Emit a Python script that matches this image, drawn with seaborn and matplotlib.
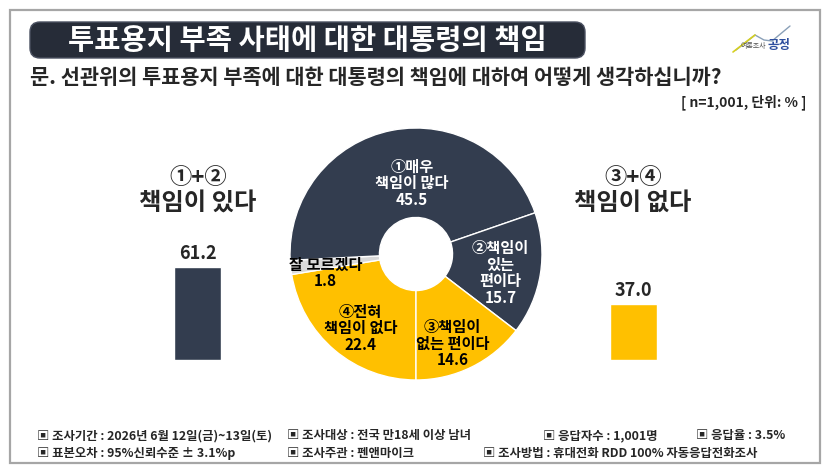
import matplotlib
matplotlib.use("Agg")
import matplotlib.pyplot as plt
from matplotlib.patches import FancyBboxPatch, Rectangle
from matplotlib.lines import Line2D
import seaborn as sns
import numpy as np

# ---------------- data ----------------
title = "투표용지 부족 사태에 대한 대통령의 책임"
question = "문. 선관위의 투표용지 부족에 대한 대통령의 책임에 대하여 어떻게 생각하십니까?"
unit_note = "[ n=1,001, 단위: % ]"

categories = ["①매우\n책임이 많다", "②책임이\n있는\n편이다", "③책임이\n없는 편이다",
              "④전혀\n책임이 없다", "잘 모르겠다"]
values = [45.5, 15.7, 14.6, 22.4, 1.8]
pie_order = [3, 4, 0, 1, 2]          # clockwise from 6 o'clock

groups = ["①+②\n책임이 있다", "③+④\n책임이 없다"]
group_values = [61.2, 37.0]

footer_row1 = ["▣ 조사기간 : 2026년 6월 12일(금)~13일(토)", "▣ 조사대상 : 전국 만18세 이상 남녀",
               "▣ 응답자수 : 1,001명", "▣ 응답율 : 3.5%"]
footer_row2 = ["▣ 표본오차 : 95%신뢰수준 ± 3.1%p", "▣ 조사주관 : 펜앤마이크",
               "▣ 조사방법 : 휴대전화 RDD 100% 자동응답전화조사"]

# ---------------- style ----------------
DARK = "#333d4f"
YELLOW = "#ffc000"
GRAY = "#d9d9d9"
cat_colors = [DARK, DARK, YELLOW, YELLOW, GRAY]
cat_text = ["white", "white", "black", "black", "black"]
label_pos = [(-0.03, 0.56), (0.67, -0.15), (0.29, -0.71), (-0.44, -0.59), (-0.72, -0.15)]

sns.set_style("white")
plt.rcParams["font.family"] = ["Noto Sans CJK KR", "DejaVu Sans"]

W, H = 827, 472
fig = plt.figure(figsize=(W / 100, H / 100), dpi=100)
fig.patch.set_facecolor("white")

def fx(x):
    return x / W

def fy(y):
    return 1 - y / H

# outer border
fig.patches.append(Rectangle((fx(10), fy(463)), fx(810), (463 - 10) / H, transform=fig.transFigure,
                             fill=False, edgecolor="#a6a6a6", linewidth=1.6, zorder=0))

# title bar
fig.patches.append(FancyBboxPatch((fx(30), fy(58)), fx(555), 36 / H,
                                  boxstyle="round,pad=0,rounding_size=0.012",
                                  transform=fig.transFigure, facecolor="#262c38",
                                  edgecolor="#4a5060", linewidth=1.0, zorder=1,
                                  mutation_aspect=W / H))
fig.text(fx(307), fy(41), title, color="white", fontsize=20.5, fontweight="bold",
         ha="center", va="center", zorder=2)

# logo
fig.add_artist(Line2D([fx(736), fx(755), fx(764), fx(772), fx(790)],
                      [fy(50), fy(35), fy(40), fy(41), fy(26)],
                      transform=fig.transFigure, color="#8aa0b8", linewidth=1.0))
fig.add_artist(Line2D([fx(733), fx(755)], [fy(52), fy(35)],
                      transform=fig.transFigure, color="#d6d020", linewidth=1.2))
fig.text(fx(766), fy(46), "여론조사", fontsize=5, color="#555555", ha="right", va="center")
fig.text(fx(768), fy(45), "공정", fontsize=9, color="#2f4f9f", fontweight="bold",
         ha="left", va="center")

# question
fig.text(fx(30), fy(78), question, fontsize=15, fontweight="bold", ha="left", va="center")
fig.text(fx(806), fy(102), unit_note, fontsize=10, fontweight="bold", ha="right", va="center")

# ---------------- bars ----------------
px_per_unit = 1.52
base_y = 360
ax_h_px = 200
axb = fig.add_axes([0, (H - base_y) / H, 1, ax_h_px / H])
sns.barplot(x=groups, y=group_values, hue=groups, palette=[DARK, YELLOW], saturation=1,
            width=0.106, legend=False, ax=axb)
axb.set_xlim(-197.5 / 436, (W - 197.5) / 436)
axb.set_ylim(0, ax_h_px / px_per_unit)
axb.axis("off")
for i, v in enumerate(group_values):
    axb.annotate(f"{v:.1f}", (i, v), xytext=(0, 3), textcoords="offset points",
                 ha="center", va="bottom", fontsize=13, fontweight="bold")

heading_x = [198, 633]
for i, g in enumerate(groups):
    top, bottom = g.split("\n")
    fig.text(fx(heading_x[i]), fy(178), top, fontsize=16, fontweight="bold",
             ha="center", va="center")
    fig.text(fx(heading_x[i]), fy(203), bottom, fontsize=17.5, fontweight="bold",
             ha="center", va="center")

# ---------------- donut ----------------
cx, cy, r = 416, 254, 126
axp = fig.add_axes([fx(cx - r), (H - cy - r) / H, 2 * r / W, 2 * r / H])
vals = [values[i] for i in pie_order]
cols = [cat_colors[i] for i in pie_order]
axp.pie(vals, colors=cols, startangle=270, counterclock=False, radius=1,
        wedgeprops=dict(width=0.71, edgecolor="white", linewidth=1.0))
axp.set_xlim(-1, 1)
axp.set_ylim(-1, 1)
axp.set_aspect("equal")
axp.axis("off")
for i, (cat, v) in enumerate(zip(categories, values)):
    axp.text(label_pos[i][0], label_pos[i][1], f"{cat}\n{v:.1f}", color=cat_text[i],
             fontsize=11, fontweight="bold", ha="center", va="center", linespacing=1.05)

# ---------------- footer ----------------
row1_x = [37, 287, 543, 696]
row2_x = [37, 287, 483]
for t, x in zip(footer_row1, row1_x):
    fig.text(fx(x), fy(436), t, fontsize=8.9, fontweight="bold", ha="left", va="center")
for t, x in zip(footer_row2, row2_x):
    fig.text(fx(x), fy(453), t, fontsize=8.9, fontweight="bold", ha="left", va="center")

fig.savefig("out.png", dpi=100)
